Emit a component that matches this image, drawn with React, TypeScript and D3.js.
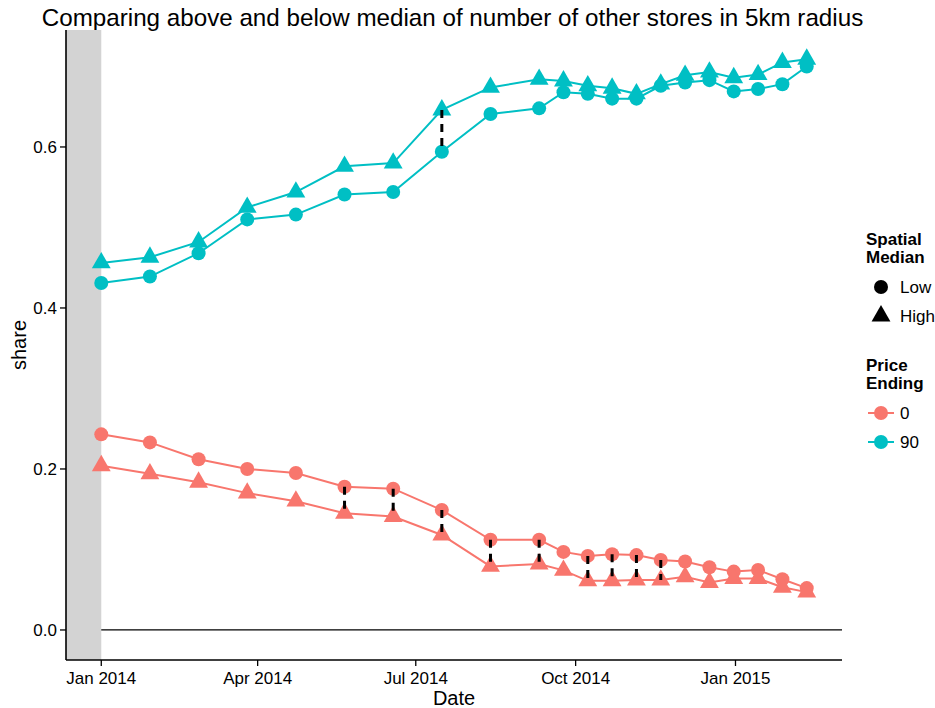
import React from "react";
import * as d3 from "d3";

// Observation dates (4-weekly, then bi-weekly from late September)
const dates = [
  "2014-01-01", "2014-01-29", "2014-02-26", "2014-03-26", "2014-04-23",
  "2014-05-21", "2014-06-18", "2014-07-16", "2014-08-13", "2014-09-10",
  "2014-09-24", "2014-10-08", "2014-10-22", "2014-11-05", "2014-11-19",
  "2014-12-03", "2014-12-17", "2014-12-31", "2015-01-14", "2015-01-28",
  "2015-02-11",
];

// Share of prices ending in 90, by spatial median group
const end90Low = [
  0.431, 0.439, 0.468, 0.510, 0.516, 0.541, 0.544, 0.594, 0.641, 0.648,
  0.668, 0.666, 0.660, 0.660, 0.676, 0.680, 0.683, 0.669, 0.672, 0.678, 0.700,
];
const end90High = [
  0.456, 0.463, 0.482, 0.525, 0.544, 0.576, 0.580, 0.646, 0.674, 0.684,
  0.682, 0.676, 0.673, 0.666, 0.678, 0.689, 0.693, 0.686, 0.690, 0.705, 0.709,
];

// Share of prices ending in 0, by spatial median group
const end0Low = [
  0.243, 0.233, 0.212, 0.200, 0.195, 0.178, 0.1755, 0.149, 0.112, 0.112,
  0.097, 0.092, 0.094, 0.093, 0.087, 0.085, 0.078, 0.0725, 0.0745, 0.063, 0.052,
];
const end0High = [
  0.204, 0.194, 0.1835, 0.170, 0.160, 0.145, 0.141, 0.118, 0.079, 0.082,
  0.074, 0.061, 0.061, 0.062, 0.062, 0.066, 0.059, 0.064, 0.064, 0.053, 0.047,
];

// Dates where the Low/High gap is flagged (dashed connector)
const flag0 = [
  false, false, false, false, false, true, true, true, true, true,
  false, true, true, true, true, false, false, false, false, false, false,
];
const flag90 = [
  false, false, false, false, false, false, false, true, false, false,
  false, false, false, false, false, false, false, false, false, false, false,
];

const yTicks = [0, 0.2, 0.4, 0.6];
const spatialLabels = ["Low", "High"];
const priceLabels = ["0", "90"];

const COL0 = "#F8766D";
const COL90 = "#00BFC4";
const FONT = "'Liberation Sans', Arial, Helvetica, sans-serif";

const W = 935;
const H = 708;
const panel = { left: 66, right: 842, top: 30, bottom: 660 };

const parse = d3.timeParse("%Y-%m-%d");
const dateObjs = dates.map((d) => parse(d) as Date);

// 5% expansion of the date range on each side
const [d0, d1] = d3.extent(dateObjs) as [Date, Date];
const padMs = (d1.getTime() - d0.getTime()) * 0.05;
const x = d3
  .scaleTime()
  .domain([new Date(d0.getTime() - padMs), new Date(d1.getTime() + padMs)])
  .range([panel.left, panel.right]);

const y = d3.scaleLinear().domain([-0.0373, 0.7453]).range([panel.bottom, panel.top]);

const R = 7;
const triPath = (cx: number, cy: number, a: number) => {
  const r = 1.555 * a;
  const xc = 1.347 * a;
  const yc = 0.778 * a;
  return `M${cx},${cy - r}L${cx + xc},${cy + yc}L${cx - xc},${cy + yc}Z`;
};

type Series = { values: number[]; color: string; shape: "circle" | "triangle" };
const series: Series[] = [
  { values: end0Low, color: COL0, shape: "circle" },
  { values: end0High, color: COL0, shape: "triangle" },
  { values: end90Low, color: COL90, shape: "circle" },
  { values: end90High, color: COL90, shape: "triangle" },
];

const line = d3
  .line<number>()
  .x((_, i) => x(dateObjs[i]))
  .y((v) => y(v));

export default function App() {
  const xTicks = x.ticks(d3.timeMonth.every(3) as d3.TimeInterval);
  const fmtX = d3.timeFormat("%b %Y");
  const fmtY = d3.format(".1f");

  const gaps: { xi: number; a: number; b: number }[] = [];
  flag0.forEach((f, i) => f && gaps.push({ xi: i, a: end0Low[i], b: end0High[i] }));
  flag90.forEach((f, i) => f && gaps.push({ xi: i, a: end90High[i], b: end90Low[i] }));

  return (
    <svg
      width={W}
      height={H}
      style={{ position: "absolute", left: 0, top: 0, display: "block", background: "#fff" }}
      fontFamily={FONT}
    >
      <rect x={0} y={0} width={W} height={H} fill="#fff" />

      {/* title */}
      <text x={452.5} y={26} textAnchor="middle" fontSize={24.2} fill="#000">
        Comparing above and below median of number of other stores in 5km radius
      </text>

      {/* zero reference line */}
      <line x1={panel.left} x2={panel.right} y1={y(0)} y2={y(0)} stroke="#000" strokeWidth={1.3} />

      {/* shaded span before the first observation */}
      <rect
        x={panel.left}
        y={panel.top}
        width={x(dateObjs[0]) - panel.left}
        height={panel.bottom - panel.top}
        fill="#d3d3d3"
      />

      {/* lines */}
      {series.map((s, k) => (
        <path key={`l${k}`} d={line(s.values) || ""} fill="none" stroke={s.color} strokeWidth={2} />
      ))}

      {/* points */}
      {series.map((s, k) =>
        s.values.map((v, i) =>
          s.shape === "circle" ? (
            <circle key={`p${k}-${i}`} cx={x(dateObjs[i])} cy={y(v)} r={R} fill={s.color} />
          ) : (
            <path key={`p${k}-${i}`} d={triPath(x(dateObjs[i]), y(v), R)} fill={s.color} />
          )
        )
      )}

      {/* dashed connectors */}
      {gaps.map((g, i) => (
        <line
          key={`g${i}`}
          x1={x(dateObjs[g.xi])}
          x2={x(dateObjs[g.xi])}
          y1={y(g.a)}
          y2={y(g.b)}
          stroke="#000"
          strokeWidth={3}
          strokeDasharray="8,6"
        />
      ))}

      {/* axes */}
      <line x1={panel.left} x2={panel.left} y1={panel.top} y2={panel.bottom} stroke="#000" strokeWidth={1.6} />
      <line x1={panel.left} x2={panel.right} y1={panel.bottom} y2={panel.bottom} stroke="#000" strokeWidth={1.6} />

      {yTicks.map((t) => (
        <g key={`yt${t}`}>
          <line x1={panel.left - 6} x2={panel.left} y1={y(t)} y2={y(t)} stroke="#000" strokeWidth={1.3} />
          <text x={panel.left - 9} y={y(t)} dy="0.36em" textAnchor="end" fontSize={17} fill="#000">
            {fmtY(t)}
          </text>
        </g>
      ))}

      {xTicks.map((t) => (
        <g key={`xt${t.getTime()}`}>
          <line x1={x(t)} x2={x(t)} y1={panel.bottom} y2={panel.bottom + 6} stroke="#000" strokeWidth={1.3} />
          <text x={x(t)} y={panel.bottom + 24} textAnchor="middle" fontSize={17} fill="#000">
            {fmtX(t)}
          </text>
        </g>
      ))}

      <text x={(panel.left + panel.right) / 2} y={705} textAnchor="middle" fontSize={20} fill="#000">
        Date
      </text>
      <text
        transform={`translate(26, ${(panel.top + panel.bottom) / 2}) rotate(-90)`}
        textAnchor="middle"
        fontSize={20}
        fill="#000"
      >
        share
      </text>

      {/* legend: spatial median */}
      <text x={866} y={245} fontSize={17} fontWeight="bold" fill="#000">Spatial</text>
      <text x={866} y={263} fontSize={17} fontWeight="bold" fill="#000">Median</text>
      <circle cx={881} cy={287} r={R} fill="#000" />
      <text x={900} y={293} fontSize={17} fill="#000">{spatialLabels[0]}</text>
      <path d={triPath(881, 316, R)} fill="#000" />
      <text x={900} y={322} fontSize={17} fill="#000">{spatialLabels[1]}</text>

      {/* legend: price ending */}
      <text x={866} y={371} fontSize={17} fontWeight="bold" fill="#000">Price</text>
      <text x={866} y={389} fontSize={17} fontWeight="bold" fill="#000">Ending</text>
      {[COL0, COL90].map((c, i) => (
        <g key={`pl${i}`}>
          <line x1={868} x2={894} y1={413 + i * 29} y2={413 + i * 29} stroke={c} strokeWidth={2} />
          <circle cx={881} cy={413 + i * 29} r={R} fill={c} />
          <text x={900} y={419 + i * 29} fontSize={17} fill="#000">{priceLabels[i]}</text>
        </g>
      ))}
    </svg>
  );
}
